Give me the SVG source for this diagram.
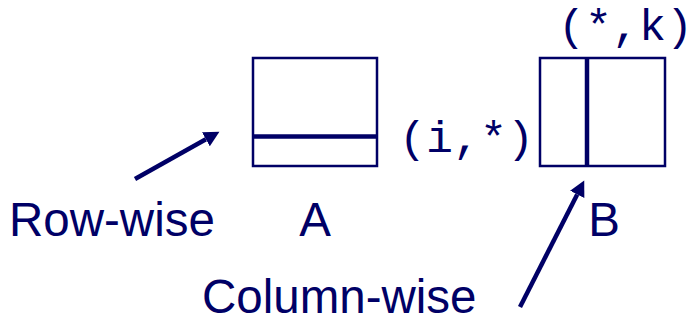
<svg xmlns="http://www.w3.org/2000/svg" width="693" height="321" viewBox="0 0 693 321">
<style>
.box{fill:none;stroke:#000066;stroke-width:2.5}
.bar{stroke:#000066;stroke-width:4.5}
.arr{stroke:#000066;stroke-width:4.5;fill:none}
.lbl{font-family:"Liberation Sans",Arial,sans-serif;font-size:47.5px;fill:#000066}
.mono{font-family:"Liberation Mono","Courier New",monospace;font-size:45px;fill:#000066}
</style>
<defs>
<marker id="head" markerUnits="userSpaceOnUse" markerWidth="16" markerHeight="16" refX="0" refY="8" orient="auto" viewBox="0 0 16 16">
<path d="M0,0 L15.5,8 L0,16 z" fill="#000066"/>
</marker>
</defs>
<g id="matrixA">
<rect class="box" x="253" y="58" width="124" height="108"/>
<line class="bar" x1="253" y1="136.5" x2="377" y2="136.5"/>
<text class="lbl" x="315" y="236" text-anchor="middle">A</text>
</g>
<g id="matrixB">
<rect class="box" x="540" y="58" width="125" height="108"/>
<line class="bar" x1="587" y1="58" x2="587" y2="166"/>
<text class="lbl" x="604" y="236" text-anchor="middle">B</text>
</g>
<g id="labelIstar"><text class="mono" x="399" y="152">(i,*)</text></g>
<g id="labelStarK"><text class="mono" x="558" y="40">(*,k)</text></g>
<g id="rowwise"><text class="lbl" x="9" y="236">Row-wise</text></g>
<g id="columnwise"><text class="lbl" x="202" y="313">Column-wise</text></g>
<g id="connectors">
<line class="arr" x1="135" y1="179" x2="205.9" y2="139.3" marker-end="url(#head)"/>
<line class="arr" x1="520" y1="307" x2="577.2" y2="194.4" marker-end="url(#head)"/>
</g>
</svg>
